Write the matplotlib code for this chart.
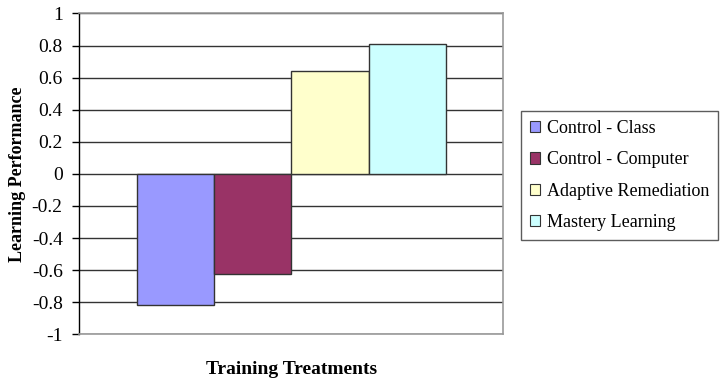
import matplotlib.pyplot as plt
from matplotlib.patches import Patch

# Data
treatments = ["Control - Class", "Control - Computer", "Adaptive Remediation", "Mastery Learning"]
performance = [-0.815, -0.623, 0.638, 0.81]
colors = ["#9999FF", "#993366", "#FFFFCC", "#CCFFFF"]
yticks = [1, 0.8, 0.6, 0.4, 0.2, 0, -0.2, -0.4, -0.6, -0.8, -1]
ytick_labels = ["1", "0.8", "0.6", "0.4", "0.2", "0", "-0.2", "-0.4", "-0.6", "-0.8", "-1"]

plt.rcParams["font.family"] = ["Liberation Serif", "DejaVu Serif"]

fig = plt.figure(figsize=(7.21, 3.83), dpi=100)
ax = fig.add_axes([0.110, 0.127, 0.588, 0.838])

# grid lines first so bars sit on top
for y in yticks:
    ax.axhline(y, color="#333333", lw=1.0, zorder=1)

x = list(range(len(treatments)))
ax.bar(x, performance, width=1.0, color=colors, edgecolor="#333333", linewidth=1.0, zorder=2)

ax.set_xlim(-1.242, 4.242)
ax.set_ylim(-1, 1)
ax.set_yticks(yticks)
ax.set_yticklabels(ytick_labels, fontsize=14)
ax.set_xticks([])
ax.tick_params(axis="y", direction="out", length=5, width=1, color="black", pad=7)

for side in ["top", "right", "bottom"]:
    ax.spines[side].set_color("#999999")
    ax.spines[side].set_linewidth(1.2)
ax.spines["left"].set_color("black")
ax.spines["left"].set_linewidth(1.0)

ax.set_ylabel("Learning Performance", fontsize=13, fontweight="bold", labelpad=4)
ax.set_xlabel("Training Treatments", fontsize=14, fontweight="bold", labelpad=19)

handles = [Patch(facecolor=c, edgecolor="#333333", linewidth=0.8) for c in colors]
leg = fig.legend(handles, treatments, loc="upper left", bbox_to_anchor=(0.722, 0.711),
                 fontsize=13.0, frameon=True, fancybox=False, edgecolor="#333333",
                 handlelength=0.6, handleheight=0.6, handletextpad=0.35,
                 labelspacing=0.8, borderpad=0.5, borderaxespad=0)
leg.get_frame().set_linewidth(1.0)

fig.savefig("out.png", dpi=100)
